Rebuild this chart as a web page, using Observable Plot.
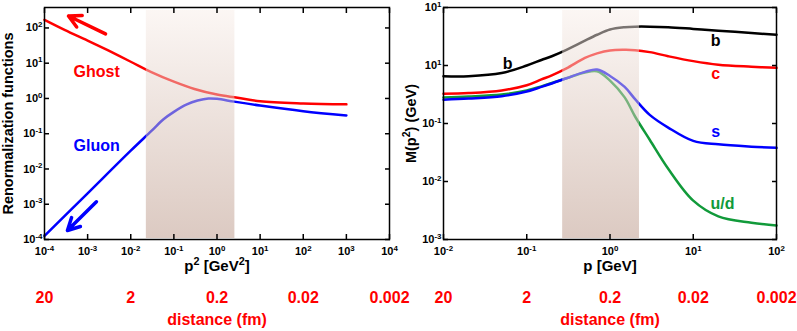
<!DOCTYPE html>
<html><head><meta charset="utf-8">
<script src="https://cdn.jsdelivr.net/npm/d3@7"></script>
<script src="https://cdn.jsdelivr.net/npm/@observablehq/plot@0.6"></script>
<style>
body{margin:0;background:#fff;}
#wrap{position:relative;width:797px;height:331px;background:#fff;}
#left,#right{position:absolute;top:0;}
#left{left:0}
#right{left:400px}
svg{overflow:visible}
</style></head><body>
<div id="wrap"><div id="left"></div><div id="right"></div></div>
<script>
// ---------- data ----------
// Left panel: renormalization functions vs p^2 [GeV^2]
const ghostP2 = [1e-4, 3e-4, 1e-3, 3e-3, 1e-2, 3e-2, 0.1, 0.3, 1, 3, 10, 100, 1000];
const ghostZ  = [170, 87, 44, 23, 11, 5.6, 3.0, 1.86, 1.29, 1.05, 0.83, 0.72, 0.68];
const gluonP2 = [1e-4, 1e-3, 1e-2, 0.0302, 0.0575, 0.1, 0.2, 0.355, 0.631, 1, 2.51, 10, 100, 1000];
const gluonZ  = [1.26e-4, 2.04e-3, 0.0331, 0.120, 0.257, 0.417, 0.676, 0.871, 1.0, 0.977, 0.813, 0.631, 0.437, 0.331];

// Right panel: running quark mass M(p^2) [GeV] vs p [GeV]
const massP  = [0.01, 0.02, 0.05, 0.1, 0.15, 0.2, 0.3, 0.5, 0.7, 1, 1.5, 2, 3, 5, 10, 20, 50, 100];
const massB  = [0.653, 0.653, 0.741, 1.0, 1.245, 1.445, 1.86, 2.69, 3.39, 4.17, 4.57, 4.68, 4.68, 4.57, 4.27, 3.98, 3.63, 3.39];
const massC  = [0.325, 0.335, 0.372, 0.457, 0.575, 0.676, 0.891, 1.35, 1.62, 1.82, 1.86, 1.84, 1.70, 1.445, 1.19, 1.035, 0.955, 0.912];
const massS  = [0.257, 0.269, 0.295, 0.355, 0.427, 0.49, 0.603, 0.776, 0.851, 0.66, 0.427, 0.263, 0.141, 0.0851, 0.0501, 0.0437, 0.0398, 0.038];
const massUD = [0.282, 0.292, 0.316, 0.372, 0.437, 0.50, 0.603, 0.759, 0.794, 0.55, 0.282, 0.132, 0.0525, 0.0166, 0.00468, 0.00251, 0.00195, 0.00174];

// ticks and labels
const leftXTicks = [1e-4, 1e-3, 1e-2, 1e-1, 1, 10, 100, 1000, 10000];
const leftXTickLabels = ["10^{-4}", "10^{-3}", "10^{-2}", "10^{-1}", "10^{0}", "10^{1}", "10^{2}", "10^{3}", "10^{4}"];
const leftYTicks = [1e-4, 1e-3, 1e-2, 1e-1, 1, 10, 100];
const leftYTickLabels = ["10^{-4}", "10^{-3}", "10^{-2}", "10^{-1}", "10^{0}", "10^{1}", "10^{2}"];
const rightXTicks = [0.01, 0.1, 1, 10, 100];
const rightXTickLabels = ["10^{-2}", "10^{-1}", "10^{0}", "10^{1}", "10^{2}"];
const rightYTicks = [1e-3, 1e-2, 1e-1, 1, 10];
const rightYTickLabels = ["10^{-3}", "10^{-2}", "10^{-1}", "10^{1}", "10^{1}"];

const leftDistPos = [1e-4, 1e-2, 1, 100, 10000];
const rightDistPos = [0.01, 0.1, 1, 10, 100];
const distLabels = ["20", "2", "0.2", "0.02", "0.002"];

const leftBand = [{lo: 0.023, hi: 2.6}];
const rightBand = [{lo: 0.27, hi: 2.26}];

const leftArrows = [
  {x1: 0.0026, y1: 67.6, x2: 3.6e-4, y2: 218, c: "#ff0000"},
  {x1: 1.6e-3, y1: 1.17e-3, x2: 3.4e-4, y2: 1.8e-4, c: "#0000ff"}
];
const leftNames = [
  {t: "Ghost", x: 1.62e-3, y: 5.7, c: "#ff0000"},
  {t: "Gluon", x: 1.62e-3, y: 0.045, c: "#0000ff"}
];
const rightNames = [
  {t: "b", x: 0.059, y: 1.08, c: "#000000"},
  {t: "b", x: 18.6, y: 2.69, c: "#000000"},
  {t: "c", x: 18.6, y: 0.728, c: "#ff0000"},
  {t: "s", x: 18.6, y: 0.0724, c: "#0000ff"},
  {t: "u/d", x: 22.4, y: 0.00417, c: "#119a3a"}
];

// ---------- helpers ----------
const FONT = "'Liberation Sans', Arial, Helvetica, sans-serif";
const toRows = (xs, ys) => xs.map((x, i) => ({x, y: ys[i]}));
const fmt = (ticks, labels) => { const m = new Map(ticks.map((t, i) => [t, labels[i]])); return d => m.get(d) ?? ""; };

function supify(svg) {
  d3.select(svg).selectAll("text").each(function () {
    const t = this.textContent;
    if (!t || !t.includes("^{")) return;
    const parts = t.split(/\^\{([^}]*)\}/);
    const el = d3.select(this);
    el.text(null);
    let raised = false;
    parts.forEach((p, i) => {
      if (p === "") { return; }
      const ts = el.append("tspan").text(p);
      if (i % 2 === 1) {
        ts.attr("font-size", "0.72em").attr("dy", "-0.55em");
        raised = true;
      } else if (raised) {
        ts.attr("dy", "0.396em");
        raised = false;
      }
    });
  });
}
function addGrad(svg, id) {
  const defs = d3.select(svg).insert("defs", ":first-child");
  const g = defs.append("linearGradient").attr("id", id).attr("x1", 0).attr("y1", 0).attr("x2", 0).attr("y2", 1);
  g.append("stop").attr("offset", 0).attr("stop-color", "#f8eee9");
  g.append("stop").attr("offset", 1).attr("stop-color", "#b99585");
}

function frameAxes(xt, yt, xl, yl, ytitle, yoff) {
  return [
    Plot.frame({stroke: "black", strokeWidth: 1.5}),
    Plot.axisX({ticks: xt, anchor: "bottom", tickSize: -5, tickFormat: () => "", label: null, strokeWidth: 1.5}),
    Plot.axisX({ticks: xt, anchor: "top", tickSize: -5, tickFormat: () => "", label: null, strokeWidth: 1.5}),
    Plot.axisY({ticks: yt, anchor: "left", tickSize: -5, tickFormat: () => "", label: null, strokeWidth: 1.5}),
    Plot.axisY({ticks: yt, anchor: "right", tickSize: -5, tickFormat: () => "", label: null, strokeWidth: 1.5}),
    Plot.axisX({ticks: xt, anchor: "bottom", tickSize: 0, tickPadding: 8, tickFormat: fmt(xt, xl), label: null, fontSize: 11, fontWeight: "bold"}),
    Plot.axisY({ticks: yt, anchor: "left", tickSize: 0, tickPadding: 2, tickFormat: fmt(yt, yl), label: null, fontSize: 11, fontWeight: "bold"}),
    Plot.axisY({ticks: [], anchor: "left", tickSize: 0, label: ytitle, labelAnchor: "center", labelArrow: "none", labelOffset: yoff, fontSize: 14.5, fontWeight: "bold"})
  ];
}
function bottomTexts(title, distPos) {
  return [
    Plot.text([title], {text: d => d, frameAnchor: "bottom", dy: 31, fontSize: 15, fontWeight: "bold", fill: "black"}),
    Plot.text(distLabels, {x: distPos, text: d => d, frameAnchor: "bottom", dy: 63, fontSize: 16, fontWeight: "bold", fill: "#ff0000"}),
    Plot.text(["distance (fm)"], {text: d => d, frameAnchor: "bottom", dy: 85, fontSize: 16, fontWeight: "bold", fill: "#ff0000"})
  ];
}

// ---------- left chart ----------
const left = Plot.plot({
  width: 400, height: 331,
  marginLeft: 44, marginRight: 11, marginTop: 7, marginBottom: 92,
  style: {fontFamily: FONT, color: "black", background: "transparent"},
  x: {type: "log", domain: [1e-4, 1e4]},
  y: {type: "log", domain: [1e-4, 380]},
  color: {type: "identity"},
  marks: [
    Plot.line(toRows(gluonP2, gluonZ), {x: "x", y: "y", stroke: "#0000ff", strokeWidth: 2.5, curve: "catmull-rom"}),
    Plot.line(toRows(ghostP2, ghostZ), {x: "x", y: "y", stroke: "#ff0000", strokeWidth: 2.5, curve: "catmull-rom"}),
    Plot.rect(leftBand, {x1: "lo", x2: "hi", fill: "url(#bandL)", fillOpacity: 0.5, insetTop: 3, insetBottom: 1}),
    Plot.arrow(leftArrows, {x1: "x1", y1: "y1", x2: "x2", y2: "y2", stroke: "c", strokeWidth: 3.5, headLength: 9, headAngle: 55, bend: 0}),
    Plot.text(leftNames, {x: "x", y: "y", text: "t", fill: "c", fontSize: 16, fontWeight: "bold"}),
    ...frameAxes(leftXTicks, leftYTicks, leftXTickLabels, leftYTickLabels, "Renormalization functions", 42),
    ...bottomTexts("p^{2} [GeV^{2}]", leftDistPos)
  ]
});
addGrad(left, "bandL");
supify(left);
document.getElementById("left").append(left);

// ---------- right chart ----------
const right = Plot.plot({
  width: 397, height: 331,
  marginLeft: 43, marginRight: 21, marginTop: 7, marginBottom: 92,
  style: {fontFamily: FONT, color: "black", background: "transparent"},
  x: {type: "log", domain: [0.01, 100]},
  y: {type: "log", domain: [1e-3, 10]},
  color: {type: "identity"},
  marks: [
    Plot.line(toRows(massP, massUD), {x: "x", y: "y", stroke: "#119a3a", strokeWidth: 2.5, curve: "catmull-rom"}),
    Plot.line(toRows(massP, massS), {x: "x", y: "y", stroke: "#0000ff", strokeWidth: 2.5, curve: "catmull-rom"}),
    Plot.line(toRows(massP, massC), {x: "x", y: "y", stroke: "#ff0000", strokeWidth: 2.5, curve: "catmull-rom"}),
    Plot.line(toRows(massP, massB), {x: "x", y: "y", stroke: "#000000", strokeWidth: 2.5, curve: "catmull-rom"}),
    Plot.rect(rightBand, {x1: "lo", x2: "hi", fill: "url(#bandR)", fillOpacity: 0.5, insetTop: 3, insetBottom: 1}),
    Plot.text(rightNames, {x: "x", y: "y", text: "t", fill: "c", fontSize: 16, fontWeight: "bold"}),
    ...frameAxes(rightXTicks, rightYTicks, rightXTickLabels, rightYTickLabels, "M(p^{2}) (GeV)", 38),
    ...bottomTexts("p [GeV]", rightDistPos)
  ]
});
addGrad(right, "bandR");
supify(right);
document.getElementById("right").append(right);
</script>
</body></html>
